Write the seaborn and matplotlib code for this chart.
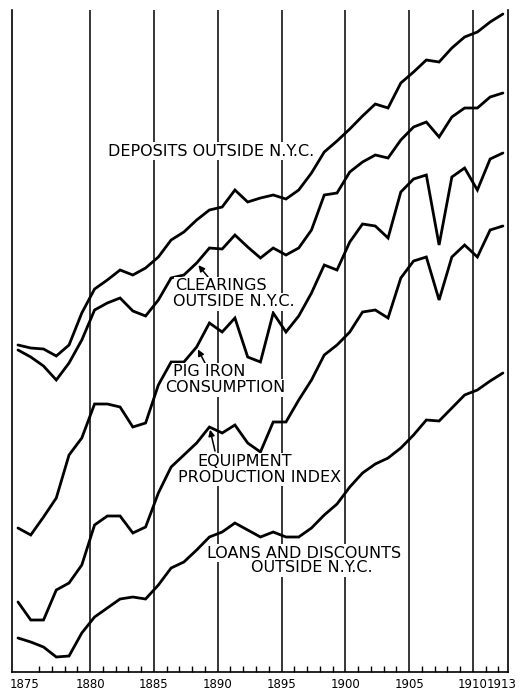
import numpy as np
import pandas as pd
import matplotlib.pyplot as plt
import seaborn as sns

# Annual series 1875-1913 (arbitrary vertical units)
years = list(range(1875, 1914))

deposits = [32.7, 32.4, 32.3, 31.6, 32.7, 35.9, 38.3, 39.2, 40.2, 39.7,
            40.4, 41.5, 43.2, 44.0, 45.2, 46.2, 46.5, 48.2, 47.0, 47.4,
            47.7, 47.3, 48.2, 49.9, 52.0, 53.1, 54.3, 55.6, 56.8, 56.4,
            58.9, 60.0, 61.2, 61.0, 62.4, 63.5, 64.0, 65.0, 65.8]

clearings = [32.2, 31.5, 30.6, 29.2, 30.9, 33.2, 36.2, 36.9, 37.4, 36.1,
             35.6, 37.2, 39.4, 39.7, 40.9, 42.4, 42.3, 43.7, 42.5, 41.4,
             42.4, 41.7, 42.4, 44.2, 47.7, 47.9, 50.0, 51.0, 51.7, 51.4,
             53.2, 54.5, 55.0, 53.5, 55.5, 56.4, 56.4, 57.5, 57.9]

pig_iron = [14.4, 13.7, 15.5, 17.4, 21.7, 23.4, 26.8, 26.8, 26.5, 24.5,
            24.9, 28.7, 31.0, 31.0, 32.5, 34.9, 34.0, 35.4, 31.5, 31.0,
            35.9, 34.0, 35.6, 37.9, 40.7, 40.2, 43.0, 44.8, 44.6, 43.4,
            48.0, 49.3, 49.7, 42.7, 49.5, 50.4, 48.2, 51.3, 51.9]

equipment = [7.0, 5.2, 5.2, 8.2, 8.9, 10.7, 14.7, 15.6, 15.6, 13.9,
             14.5, 17.9, 20.5, 21.7, 22.9, 24.5, 23.9, 24.7, 22.9, 22.0,
             25.0, 25.0, 27.2, 29.2, 31.7, 32.7, 34.0, 36.0, 36.2, 35.4,
             39.4, 41.1, 41.5, 37.2, 41.5, 42.7, 41.5, 44.2, 44.6]

loans = [3.4, 3.0, 2.5, 1.5, 1.6, 3.9, 5.5, 6.4, 7.3, 7.5,
         7.3, 8.7, 10.4, 11.0, 12.2, 13.5, 14.0, 14.9, 14.2, 13.5,
         14.0, 13.5, 13.5, 14.4, 15.7, 16.8, 18.5, 19.9, 20.8, 21.4,
         22.4, 23.7, 25.2, 25.1, 26.4, 27.7, 28.2, 29.1, 29.9]

grid_years = [1880, 1885, 1890, 1895, 1900, 1905, 1910]
tick_labels = ['1875', '1880', '1885', '1890', '1895', '1900', '1905', '1910', '1913']

sns.set_style('white')
plt.rcParams['font.family'] = ['DejaVu Sans']
plt.rcParams['text.color'] = 'black'

W, H = 519, 692
fig = plt.figure(figsize=(W / 100, H / 100), dpi=100)
ax = fig.add_axes([12 / W, 20 / H, 496 / W, 662 / H])

df = pd.DataFrame({'year': years, 'deposits': deposits, 'clearings': clearings,
                   'pig_iron': pig_iron, 'equipment': equipment, 'loans': loans})
for col in ['deposits', 'clearings', 'pig_iron', 'equipment', 'loans']:
    sns.lineplot(data=df, x='year', y=col, ax=ax, color='black', lw=2.0,
                 solid_joinstyle='miter', zorder=3)

# the ruled lines sit a little past each labelled year
off = 0.65
for g in grid_years:
    ax.axvline(g + off, color='black', lw=1.1, zorder=1)

ax.set_xlim(1874.53, 1913.4)
ax.set_ylim(0, 66.2)
ax.set_xticks([1875.55] + [g + off for g in grid_years[:-1]] + [1910.6, 1912.9])
ax.set_xticklabels(tick_labels, fontsize=8.5, color='black')
ax.set_xticks([y + off for y in years[1:-1] if y % 5 != 0], minor=True)
ax.tick_params(axis='x', which='major', length=0, pad=4, labelcolor='black')
ax.tick_params(axis='x', which='minor', direction='in', length=4, width=1,
               bottom=True, color='black')
ax.set_yticks([])
ax.set_xlabel('')
ax.set_ylabel('')
ax.spines['top'].set_visible(False)
for s in ['left', 'right', 'bottom']:
    ax.spines[s].set_color('black')
    ax.spines[s].set_linewidth(1.2)


def fp(x, y):
    return x / W, 1 - y / H


box = dict(facecolor='white', edgecolor='none', pad=0.8)
fs = 11.5
labels = [
    ('DEPOSITS OUTSIDE N.Y.C.', 108, 151),
    ('CLEARINGS', 175, 286),
    ('OUTSIDE N.Y.C.', 173, 302),
    ('PIG IRON', 173, 372),
    ('CONSUMPTION', 165, 388),
    ('EQUIPMENT', 197, 462),
    ('PRODUCTION INDEX', 178, 477),
    ('LOANS AND DISCOUNTS', 207, 553),
    ('OUTSIDE N.Y.C.', 251, 568),
]
for txt, x, y in labels:
    fig.text(*fp(x, y), txt, fontsize=fs, ha='left', va='center',
             color='black', bbox=box, zorder=5)

arrow = dict(arrowstyle='-|>', color='black', lw=1.1, mutation_scale=9,
             shrinkA=0, shrinkB=2)
ax.annotate('', xy=(years[14], clearings[14]), xycoords='data',
            xytext=(208, H - 277), textcoords='figure pixels', arrowprops=arrow)
ax.annotate('', xy=(years[14], pig_iron[14]), xycoords='data',
            xytext=(205, H - 363), textcoords='figure pixels', arrowprops=arrow)
ax.annotate('', xy=(years[15], equipment[15]), xycoords='data',
            xytext=(215, H - 451), textcoords='figure pixels', arrowprops=arrow)

fig.savefig('out.png', dpi=100, facecolor='white')
